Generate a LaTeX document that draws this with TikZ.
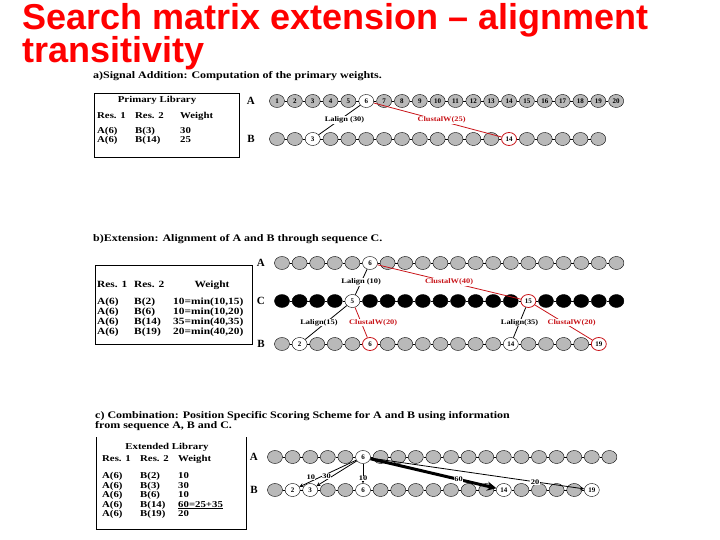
\documentclass[tikz,border=0pt]{standalone}
\usepackage{fontspec}
\setmainfont{Liberation Serif}
\newfontfamily\titlefont{Liberation Sans}
\newfontfamily\wserif[FakeStretch=1.2]{Liberation Serif}
\usetikzlibrary{positioning,shapes.geometric}
\definecolor{ttred}{RGB}{200,20,25}

\begin{document}
\begin{tikzpicture}[x=1pt, y=-1pt, >=stealth,
  Tn/.style={draw, ellipse, minimum width=15pt, minimum height=13pt,
    inner sep=0pt, fill=gray!55, font=\bfseries\fontsize{7}{7}\selectfont},
  Tw/.style={Tn, fill=white},
  Tr/.style={Tw, draw=ttred, thick},
  Tk/.style={Tn, fill=black},
  lnk/.style={semithick},
  tag/.style={fill=white, inner sep=0.5pt, font=\wserif\bfseries\fontsize{7}{7}\selectfont},
  seq/.style={font=\bfseries\fontsize{11}{11}\selectfont},
  capn/.style={anchor=base west, inner sep=0pt, font=\wserif\bfseries\fontsize{10}{10}\selectfont},
  tab/.style={anchor=base west, inner sep=0pt, font=\wserif\bfseries\fontsize{9}{9}\selectfont},
  tabb/.style={tab, font=\wserif\bfseries\fontsize{9.5}{9.5}\selectfont}]
\useasboundingbox (0,0) rectangle (720,540);

\node[anchor=base west, inner sep=0pt, text=red,
  font=\titlefont\bfseries\fontsize{36}{36}\selectfont] (t1) at (22,30) {Search matrix extension – alignment};
\node[anchor=base west, inner sep=0pt, text=red,
  font=\titlefont\bfseries\fontsize{36}{36}\selectfont] (t2) at (22,63) {transitivity};

% a) primary library
\node[capn] (capa) at (93,79) {a)Signal Addition: Computation of the primary weights.};
\draw[semithick] (94,93) rectangle (239,157);
\node[tab, anchor=base] at (157,103) {Primary Library};
\node[tab] at (97,119) {Res. 1};
\node[tab] at (135,119) {Res. 2};
\node[tab] at (180,119) {Weight};
\node[tab] at (97,134) {A(6)};
\node[tab] at (135,134) {B(3)};
\node[tab] at (180,134) {30};
\node[tab] at (97,143) {A(6)};
\node[tab] at (135,143) {B(14)};
\node[tab] at (180,143) {25};

\foreach \i in {1,...,5,7,8,...,20}
  \node[Tn] (aA\i) at ({277+(\i-1)*17.85},101) {\i};
\node[Tw] (aA6) at ({277+5*17.85},101) {6};
\foreach \i in {1,2,4,5,...,13,15,16,...,19}
  \node[Tn] (aB\i) at ({277+(\i-1)*17.85},139) {};
\node[Tw] (aB3) at ({277+2*17.85},139) {3};
\node[Tr] (aB14) at ({277+13*17.85},139) {14};
\foreach \i [remember=\i as \j (initially 1)] in {2,...,20}
  \draw[lnk] (aA\j) -- (aA\i);
\foreach \i [remember=\i as \j (initially 1)] in {2,...,19}
  \draw[lnk] (aB\j) -- (aB\i);
\node[seq, left=11pt of aA1] (la) {A};
\node[seq, left=11pt of aB1] (lb) {B};

\draw[thick] (aA6) -- node[tag, xshift=5pt] {Lalign (30)} (aB3);
\draw[thick, ttred] (aA6) -- node[tag, xshift=4pt] {ClustalW(25)} (aB14);

% b) extension through C
\node[capn] (capb) at (93,241) {b)Extension: Alignment of A and B through sequence C.};
\draw[semithick] (95,265) rectangle (252,344);
\node[tabb] at (97,287) {Res. 1};
\node[tabb] at (134,287) {Res. 2};
\node[tabb, anchor=base] at (212,287) {Weight};
\node[tabb] at (97,304) {A(6)};
\node[tabb] at (134,304) {B(2)};
\node[tabb] at (173,304) {10=min(10,15)};
\node[tabb] at (97,314) {A(6)};
\node[tabb] at (134,314) {B(6)};
\node[tabb] at (173,314) {10=min(10,20)};
\node[tabb] at (97,324) {A(6)};
\node[tabb] at (134,324) {B(14)};
\node[tabb] at (173,324) {35=min(40,35)};
\node[tabb] at (97,334) {A(6)};
\node[tabb] at (134,334) {B(19)};
\node[tabb] at (173,334) {20=min(40,20)};

\foreach \i in {1,...,5,7,8,...,20}
  \node[Tn] (bA\i) at ({282+(\i-1)*17.6},263) {};
\node[Tw] (bA6) at ({282+5*17.6},263) {6};
\foreach \i in {1,...,4,6,7,...,14,16,17,...,20}
  \node[Tk] (bC\i) at ({282+(\i-1)*17.6},301) {};
\node[Tw] (bC5) at ({282+4*17.6},301) {5};
\node[Tr] (bC15) at ({282+14*17.6},301) {15};
\foreach \i in {1,3,4,5,7,8,...,13,15,16,17,18}
  \node[Tn] (bB\i) at ({282+(\i-1)*17.6},344) {};
\node[Tw] (bB2) at ({282+1*17.6},344) {2};
\node[Tr] (bB6) at ({282+5*17.6},344) {6};
\node[Tw] (bB14) at ({282+13*17.6},344) {14};
\node[Tr] (bB19) at ({282+18*17.6},344) {19};
\foreach \i [remember=\i as \j (initially 1)] in {2,...,20}
  \draw[lnk] (bA\j) -- (bA\i);
\foreach \i [remember=\i as \j (initially 1)] in {2,...,20}
  \draw[lnk] (bC\j) -- (bC\i);
\foreach \i [remember=\i as \j (initially 1)] in {2,...,19}
  \draw[lnk] (bB\j) -- (bB\i);
\node[seq, left=6pt of bA1] {A};
\node[seq, left=6pt of bC1] {C};
\node[seq, left=6pt of bB1] {B};

\draw[thick] (bA6) -- node[tag] {Lalign (10)} (bC5);
\draw[thick, ttred] (bA6) -- node[tag] {ClustalW(40)} (bC15);
\draw[thick] (bC5) -- node[tag, xshift=-7pt] {Lalign(15)} (bB2);
\draw[thick, ttred] (bC5) -- node[tag, xshift=12pt] {ClustalW(20)} (bB6);
\draw[thick] (bC15) -- node[tag] {Lalign(35)} (bB14);
\draw[thick, ttred] (bC15) -- node[tag, xshift=8pt] {ClustalW(20)} (bB19);

% c) combination
\node[capn] (capc) at (95,418) {c) Combination: Position Specific Scoring Scheme for A and B using information};
\node[capn] (capc2) at (95,428) {from sequence A, B and C.};
\draw[semithick] (96,437) -- (96,529) -- (246,529) -- (246,437);
\node[tab, anchor=base] at (167,449) {Extended Library};
\node[tab] at (102,461) {Res. 1};
\node[tab] at (140,461) {Res. 2};
\node[tab] at (178,461) {Weight};
\node[tab] at (102,478) {A(6)};
\node[tab] at (140,478) {B(2)};
\node[tab] at (178,478) {10};
\node[tab] at (102,488) {A(6)};
\node[tab] at (140,488) {B(3)};
\node[tab] at (178,488) {30};
\node[tab] at (102,497) {A(6)};
\node[tab] at (140,497) {B(6)};
\node[tab] at (178,497) {10};
\node[tab] at (102,507) {A(6)};
\node[tab] at (140,507) {B(14)};
\node[tab] (sum) at (178,507) {60=25+35};
\draw[semithick] (sum.base west) ++(0,1.5) -- (sum.base east |- 0,508.5);
\node[tab] at (102,516) {A(6)};
\node[tab] at (140,516) {B(19)};
\node[tab] at (178,516) {20};

\foreach \i in {1,...,5,7,8,...,20}
  \node[Tn] (cA\i) at ({275+(\i-1)*17.6},457) {};
\node[Tw] (cA6) at ({275+5*17.6},457) {6};
\foreach \i in {1,4,5,7,8,...,13,15,16,17,18}
  \node[Tn] (cB\i) at ({275+(\i-1)*17.6},490) {};
\node[Tw] (cB2) at ({275+1*17.6},490) {2};
\node[Tw] (cB3) at ({275+2*17.6},490) {3};
\node[Tw] (cB6) at ({275+5*17.6},490) {6};
\node[Tw] (cB14) at ({275+13*17.6},490) {14};
\node[Tw] (cB19) at ({275+18*17.6},490) {19};
\foreach \i [remember=\i as \j (initially 1)] in {2,...,20}
  \draw[lnk] (cA\j) -- (cA\i);
\foreach \i [remember=\i as \j (initially 1)] in {2,...,19}
  \draw[lnk] (cB\j) -- (cB\i);
\node[seq, left=6pt of cA1] {A};
\node[seq, left=6pt of cB1] {B};

\draw[thick, ->] (cA6) -- node[tag, pos=0.8, yshift=4pt] {10} (cB2);
\draw[thick, ->] (cA6) -- node[tag, pos=0.75, yshift=4pt] {30} (cB3);
\draw[thick, ->] (cA6) -- node[tag, pos=0.75] {10} (cB6);
\draw[line width=3pt, ->] (cA6) -- node[tag, pos=0.7] {60} (cB14);
\draw[thick, ->] (cA6) -- node[tag, pos=0.77] {20} (cB19);

\end{tikzpicture}
\end{document}
